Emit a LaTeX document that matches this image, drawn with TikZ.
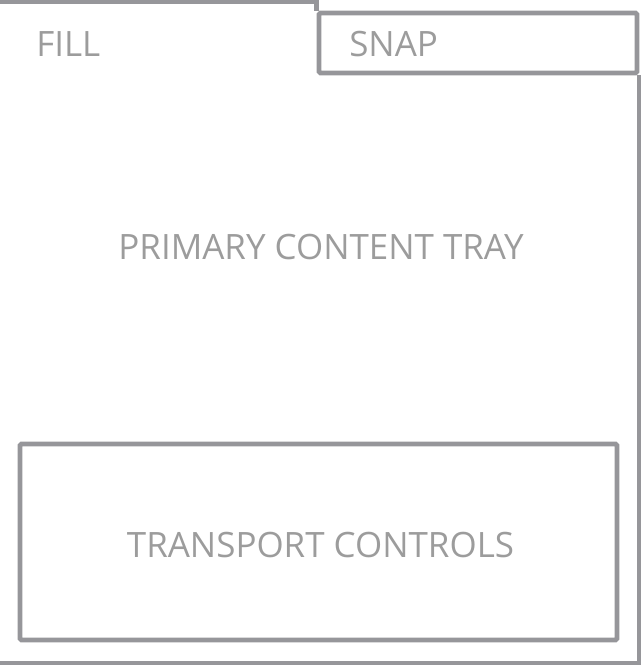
\documentclass[tikz,border=0pt]{standalone}
\usepackage{fontspec}
\setmainfont{Open Sans}
\usetikzlibrary{positioning}
\definecolor{framegray}{HTML}{96969A}
\definecolor{labelgray}{HTML}{9C9C9C}
\tikzstyle{frame} = [draw=framegray, line width=3.4pt]
\tikzstyle{panel} = [rectangle, draw=framegray, line width=3.4pt, rounded corners=1pt, inner sep=0pt]
\tikzstyle{label} = [text=labelgray, font=\fontsize{26.2}{30}\selectfont, inner sep=0pt]

\begin{document}
\begin{tikzpicture}[x=0.75pt, y=-0.75pt]
		\useasboundingbox (0,0) rectangle (640,666);
		\coordinate (topleft) at (0,2);
		\coordinate (botleft) at (0,663);
		\node (snap) [panel, minimum width=318*0.75pt, minimum height=60*0.75pt] at (478,43) {};
		\node (transport) [panel, minimum width=597*0.75pt, minimum height=196*0.75pt] at (318.5,542) {};
		\draw [frame] (topleft) -| (snap.north west);
		\draw [frame] (snap.south east) |- (botleft);
		\node (fill) [label, anchor=west] at (36,44) {FILL};
		\node (snaplabel) [label, anchor=west] at (349,44) {SNAP};
		\node (tray) [label] at (321,247) {PRIMARY CONTENT TRAY};
		\node (transportlabel) [label, below=0pt of transport.center, anchor=center, xshift=2*0.75pt, yshift=-2.5*0.75pt] {TRANSPORT CONTROLS};
	\end{tikzpicture}
\end{document}
